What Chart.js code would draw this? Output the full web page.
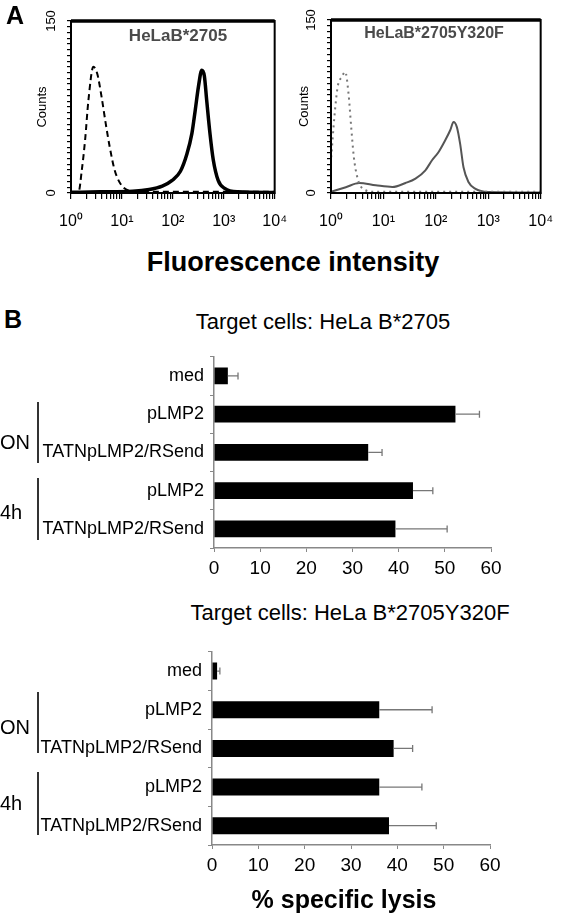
<!DOCTYPE html>
<html>
<head>
<meta charset="utf-8">
<script src="https://cdn.jsdelivr.net/npm/chart.js@4.4.0/dist/chart.umd.min.js"></script>
<style>
body { margin: 0; background: #fff; width: 566px; height: 918px; position: relative; overflow: hidden; font-family: "Liberation Sans", Arial, sans-serif; }
canvas { position: absolute; }
.t { position: absolute; white-space: nowrap; line-height: 1; transform: translate(-50%, -50%); color: #000; }
.g { position: absolute; white-space: nowrap; line-height: 1; transform: translateY(-50%); color: #000; font-size: 20px; left: 0; }
.vline { position: absolute; width: 2px; background: #333; }
</style>
</head>
<body>
<canvas id="histA" width="300" height="245" style="left:0;top:0"></canvas>
<canvas id="histB" width="283" height="245" style="left:283px;top:0"></canvas>
<canvas id="lysisA" width="566" height="248" style="left:0;top:340px"></canvas>
<canvas id="lysisB" width="566" height="250" style="left:0;top:635px"></canvas>

<div class="t" style="left:15px;top:15px;font-size:25px;font-weight:bold">A</div>
<div class="t" style="left:178px;top:35px;font-size:17px;font-weight:bold;color:#4a4a4a">HeLaB*2705</div>
<div class="t" style="left:434px;top:33px;font-size:16px;font-weight:bold;color:#4a4a4a">HeLaB*2705Y320F</div>
<div class="t" style="left:293px;top:262px;font-size:27px;font-weight:bold">Fluorescence intensity</div>

<div class="t" style="left:13px;top:319px;font-size:25px;font-weight:bold">B</div>
<div class="t" style="left:323px;top:322px;font-size:22px">Target cells: HeLa B*2705</div>
<div class="g" style="top:442px">ON</div>
<div class="g" style="top:512px">4h</div>
<div class="vline" style="left:37px;top:402px;height:61px"></div>
<div class="vline" style="left:37px;top:478px;height:62px"></div>

<div class="t" style="left:350px;top:613px;font-size:22px">Target cells: HeLa B*2705Y320F</div>
<div class="g" style="top:727px">ON</div>
<div class="g" style="top:803px">4h</div>
<div class="vline" style="left:37px;top:692px;height:61px"></div>
<div class="vline" style="left:37px;top:772px;height:63px"></div>
<div class="t" style="left:344px;top:899px;font-size:25px;font-weight:bold">% specific lysis</div>

<script>
// --- panel A: flow cytometry histograms (fluorescence, log axis) ---
const decadeTicks = [1, 10, 100, 1000, 10000];
const decadeLabels = ['10\u2070', '10\u00b9', '10\u00b2', '10\u00b3', '10\u2074'];

// HeLaB*2705, control (dashed)
const ctrlA_x = [1, 1.41, 1.63, 1.89, 2.2, 2.75, 3.28, 3.98, 4.83, 5.77, 7.2, 9.7, 14, 25, 100, 1000, 10000];
const ctrlA_counts = [0.5, 1, 20, 46, 81, 110, 104, 84, 60, 40, 20, 7, 2, 1, 1, 1, 1];
// HeLaB*2705, stained (solid)
const stainA_x = [1, 3.7, 16.3, 34.3, 62, 97, 141, 189, 237, 275, 319, 370, 416, 462, 536, 622, 777, 1045, 1892, 10000];
const stainA_counts = [0.6, 1, 1.5, 3, 6, 11, 19, 34, 52, 72, 93, 107, 102, 81, 52, 29, 11, 4, 1, 0.5];

// HeLaB*2705Y320F, control (dotted)
const ctrlB_x = [1.01, 1.16, 1.34, 1.62, 1.87, 2.16, 2.43, 2.73, 3.16, 3.98, 7.1, 100, 1000, 10000];
const ctrlB_counts = [31, 66, 92, 101, 105, 86, 57, 31, 14, 4, 1, 1, 1, 1];
// HeLaB*2705Y320F, stained (solid)
const stainB_x = [1, 1.92, 3.44, 7.13, 14.8, 26.4, 40.9, 63.2, 84.6, 113, 151, 188, 218, 252, 291, 337, 419, 561, 1000, 10000];
const stainB_counts = [1, 5, 8.7, 6.7, 5.2, 8.7, 12.5, 19.7, 28.4, 35.6, 45.7, 54.4, 61.6, 57.1, 42.6, 22.3, 9.6, 3.8, 0.9, 0.5];

// --- panel B: % specific lysis ---
const lysisLabels = ['med', 'pLMP2', 'TATNpLMP2/RSend', 'pLMP2', 'TATNpLMP2/RSend'];
const lysisA = [3.0, 52.3, 33.4, 43.1, 39.3];
const lysisA_sd = [2.2, 5.2, 3.0, 4.3, 11.2];
const lysisB = [1.1, 36.1, 39.2, 36.1, 38.2];
const lysisB_sd = [0.6, 11.4, 4.1, 9.2, 10.2];

Chart.defaults.font.family = '"Liberation Sans", Arial, sans-serif';
Chart.defaults.color = '#000';
Chart.defaults.animation = false;

function toPoints(xs, ys) {
    return xs.map((x, i) => ({ x: x, y: ys[i] }));
}

// thick frame around the histogram plot area
const framePlugin = {
    id: 'frame',
    afterDraw(chart) {
        const a = chart.chartArea;
        const ctx = chart.ctx;
        ctx.save();
        ctx.strokeStyle = '#000';
        ctx.lineWidth = 2;
        ctx.strokeRect(a.left, a.top, a.right - a.left, a.bottom - a.top);
        ctx.lineWidth = 3.5;
        ctx.beginPath();
        ctx.moveTo(a.left, a.top);
        ctx.lineTo(a.right, a.top);
        ctx.stroke();
        ctx.restore();
    }
};

// one-sided error bars from the bar end
const errorBarPlugin = {
    id: 'errorBars',
    afterDatasetsDraw(chart, args, opts) {
        const ctx = chart.ctx;
        const xs = chart.scales.x;
        const ys = chart.scales.y;
        const values = chart.data.datasets[0].data;
        ctx.save();
        ctx.strokeStyle = '#777';
        ctx.lineWidth = 1.3;
        values.forEach((v, i) => {
            const y = ys.getPixelForValue(i);
            const x1 = xs.getPixelForValue(v);
            const x2 = xs.getPixelForValue(v + opts.sd[i]);
            ctx.beginPath();
            ctx.moveTo(x1, y);
            ctx.lineTo(x2, y);
            ctx.moveTo(x2, y - 3.5);
            ctx.lineTo(x2, y + 3.5);
            ctx.stroke();
        });
        ctx.restore();
    }
};

function minorLogTicks() {
    const ticks = [];
    for (let d = 1; d < 10000; d *= 10) {
        for (let k = 1; k < 10; k++) ticks.push(d * k);
    }
    ticks.push(10000);
    return ticks;
}

function makeHistogram(id, ctrlPts, stainPts, ctrlStyle, stainStyle, yWidth, rightPad, topPad, titlePad) {
    return new Chart(document.getElementById(id), {
        type: 'line',
        data: {
            datasets: [
                Object.assign({ data: ctrlPts, pointRadius: 0, fill: false, cubicInterpolationMode: 'monotone' }, ctrlStyle),
                Object.assign({ data: stainPts, pointRadius: 0, fill: false, cubicInterpolationMode: 'monotone' }, stainStyle)
            ]
        },
        options: {
            responsive: false,
            layout: { padding: { top: topPad, right: rightPad, left: 0, bottom: 0 } },
            plugins: { legend: { display: false }, tooltip: { enabled: false } },
            scales: {
                x: {
                    type: 'logarithmic',
                    min: 1,
                    max: 10000,
                    afterBuildTicks: (scale) => {
                        scale.ticks = minorLogTicks().map(v => ({ value: v }));
                    },
                    afterFit: (scale) => { scale.height = 52; },
                    ticks: {
                        autoSkip: false,
                        maxRotation: 0,
                        padding: 13,
                        font: { size: 16 },
                        callback: (v) => {
                            const i = decadeTicks.indexOf(v);
                            return i >= 0 ? decadeLabels[i] : '';
                        }
                    },
                    grid: { drawOnChartArea: false, tickLength: 6, color: '#000', lineWidth: 1.2 },
                    border: { color: '#000', width: 2 }
                },
                y: {
                    min: 0,
                    max: 150,
                    afterFit: (scale) => { scale.width = yWidth; },
                    title: { display: true, text: 'Counts', font: { size: 13 }, padding: { top: titlePad, bottom: 0 } },
                    ticks: {
                        stepSize: 5,
                        autoSkip: false,
                        minRotation: 90,
                        maxRotation: 90,
                        crossAlign: 'center',
                        padding: 5,
                        font: { size: 13 },
                        callback: (v) => (v === 0 || v === 150) ? String(v) : ''
                    },
                    grid: { drawOnChartArea: false, tickLength: 4, color: '#000', lineWidth: 1.2 },
                    border: { color: '#000', width: 2 }
                }
            }
        },
        plugins: [framePlugin]
    });
}

makeHistogram('histA',
    toPoints(ctrlA_x, ctrlA_counts), toPoints(stainA_x, stainA_counts),
    { borderColor: '#000', borderWidth: 2, borderDash: [6, 4] },
    { borderColor: '#000', borderWidth: 3.5 },
    71, 23, 21, 35);

makeHistogram('histB',
    toPoints(ctrlB_x, ctrlB_counts), toPoints(stainB_x, stainB_counts),
    { borderColor: '#777', borderWidth: 2, borderDash: [2, 4] },
    { borderColor: '#555', borderWidth: 2 },
    48, 24, 20, 14);

function makeLysis(id, values, sd, yWidth, rightPad) {
    return new Chart(document.getElementById(id), {
        type: 'bar',
        data: {
            labels: lysisLabels,
            datasets: [{
                data: values,
                backgroundColor: '#000',
                borderWidth: 0,
                barPercentage: 0.44,
                categoryPercentage: 1
            }]
        },
        options: {
            indexAxis: 'y',
            responsive: false,
            layout: { padding: { top: 13, right: rightPad, left: 0, bottom: 0 } },
            plugins: { legend: { display: false }, tooltip: { enabled: false }, errorBars: { sd: sd } },
            scales: {
                x: {
                    min: 0,
                    max: 60,
                    afterFit: (scale) => { scale.height = 40; },
                    ticks: { stepSize: 10, padding: 5, font: { size: 19 }, maxRotation: 0 },
                    grid: { drawOnChartArea: false, tickLength: 4, color: '#888' },
                    border: { color: '#888', width: 1.5 }
                },
                y: {
                    afterFit: (scale) => { scale.width = yWidth; },
                    ticks: { padding: 6, font: { size: 18 } },
                    grid: { drawOnChartArea: false, tickLength: 4, color: '#888' },
                    border: { color: '#888', width: 1.5 }
                }
            }
        },
        plugins: [errorBarPlugin]
    });
}

makeLysis('lysisA', lysisA, lysisA_sd, 214, 75);
makeLysis('lysisB', lysisB, lysisB_sd, 212, 76);
</script>
</body>
</html>
